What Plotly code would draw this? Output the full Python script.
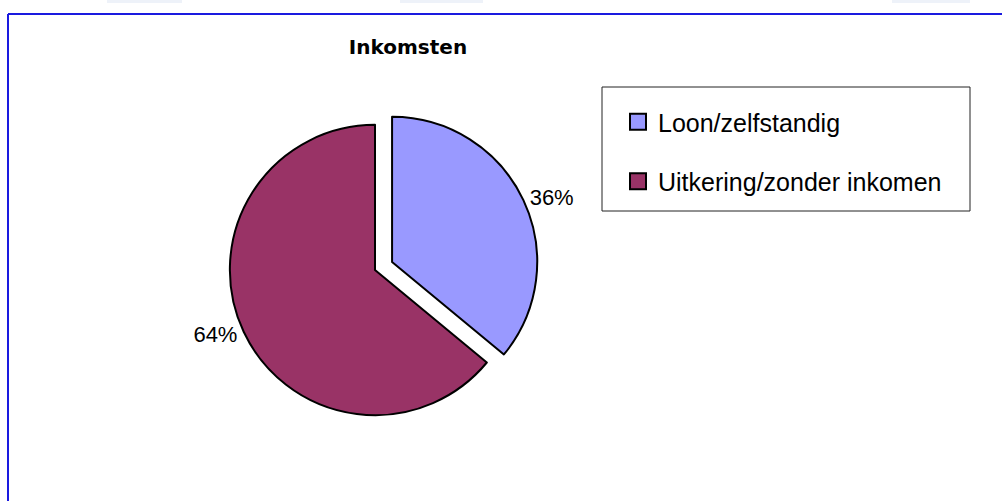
import plotly.graph_objects as go

labels = ["Loon/zelfstandig", "Uitkering/zonder inkomen"]
values = [36, 64]
colors = ["#9999FF", "#993366"]
pulls = [0.13, 0]

W, H = 1002, 501

fig = go.Figure()
fig.add_trace(go.Pie(
    labels=labels, values=values, sort=False, direction="clockwise",
    pull=pulls, showlegend=False,
    marker=dict(colors=colors, line=dict(color="black", width=2)),
    texttemplate="%{percent:.0%}", textposition="outside",
    textfont=dict(family="Liberation Sans", size=22, color="black"),
    domain=dict(x=[211 / W, 539 / W], y=[1 - 434 / H, 1 - 106 / H]),
    hoverinfo="label+percent",
))

# legenda-items (lege traces, alleen voor de legenda)
for i, lab in enumerate(labels):
    fig.add_trace(go.Scatter(
        x=[None], y=[None], mode="markers", name=lab, legendgroup="g%d" % i,
        marker=dict(symbol="square", size=16, color=colors[i],
                    line=dict(color="black", width=2)),
    ))

# kader rond de grafiek
fig.add_shape(type="line", xref="paper", yref="paper",
              x0=8 / W, x1=1.01, y0=1 - 14 / H, y1=1 - 14 / H,
              line=dict(color="#1a1adf", width=2))
fig.add_shape(type="line", xref="paper", yref="paper",
              x0=8 / W, x1=8 / W, y0=1 - 14 / H, y1=-0.01,
              line=dict(color="#1a1adf", width=2))
# kader van de legenda
fig.add_shape(type="rect", xref="paper", yref="paper",
              x0=602 / W, x1=970 / W, y0=1 - 211 / H, y1=1 - 87 / H,
              fillcolor="white", line=dict(color="#222222", width=1))
# vage balkjes bovenaan
for a, b in [(107, 182), (400, 483), (892, 970)]:
    fig.add_shape(type="rect", xref="paper", yref="paper",
                  x0=a / W, x1=b / W, y0=1 - 3 / H, y1=1,
                  fillcolor="#eef2f9", line=dict(width=0))

fig.update_layout(
    width=W, height=H,
    margin=dict(l=0, r=0, t=0, b=0),
    paper_bgcolor="white", plot_bgcolor="white",
    xaxis=dict(visible=False), yaxis=dict(visible=False),
    title=dict(text="Inkomsten", x=408 / W, xanchor="center",
               y=1 - 47 / H, yanchor="middle",
               font=dict(family="DejaVu Sans", size=20, color="black", weight="bold")),
    showlegend=True,
    legend=dict(x=618 / W, y=1 - 99 / H, xanchor="left", yanchor="top",
                bgcolor="rgba(0,0,0,0)", borderwidth=0,
                font=dict(family="Liberation Sans", size=25, color="black"),
                traceorder="grouped", tracegroupgap=24),
)

fig.write_html("out.html", config={"displayModeBar": False},
               post_script="document.body.style.margin='0px';")
